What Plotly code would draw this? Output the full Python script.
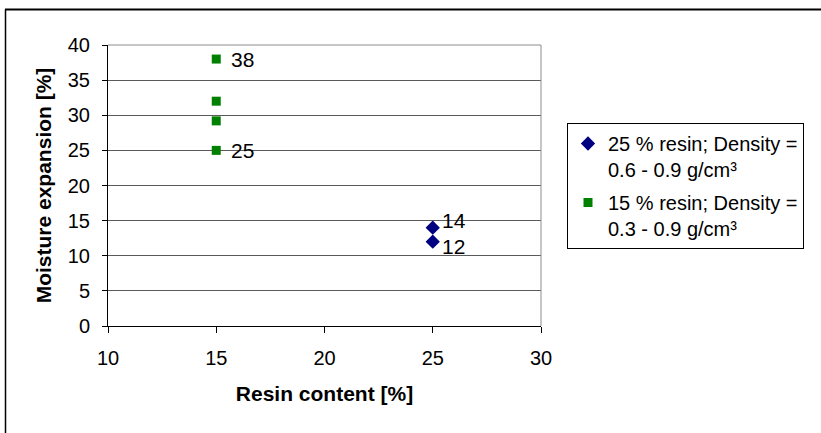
import plotly.graph_objects as go

# Moisture expansion measured at two resin contents
resin_25_x = [25, 25]
resin_25_y = [14, 12]
resin_15_x = [15, 15, 15, 15]
resin_15_y = [38, 32, 29.2, 25]

# values annotated next to the points
labels_25 = {14: 7, 12: -5}      # value -> vertical nudge (px)
labels_15 = {38: 0, 25: 0}

x_ticks = [10, 15, 20, 25, 30]
y_ticks = [0, 5, 10, 15, 20, 25, 30, 35, 40]

W, H = 821, 433
ML, MR, MT, MB = 108, 280, 45, 107
PW, PH = W - ML - MR, H - MT - MB

def px_to_paper_x(px):
    return (px - ML) / PW

def px_to_paper_y(py):
    return (H - MB - py) / PH

FONT = "Arial, Liberation Sans, sans-serif"

fig = go.Figure()
fig.add_trace(go.Scatter(
    x=resin_25_x, y=resin_25_y, mode="markers",
    name="25 % resin; Density =<br>0.6 - 0.9 g/cm³", legendgroup="a",
    marker=dict(symbol="diamond", size=11, color="#000080"),
))
fig.add_trace(go.Scatter(
    x=resin_15_x, y=resin_15_y, mode="markers",
    name="15 % resin; Density =<br>0.3 - 0.9 g/cm³", legendgroup="b",
    marker=dict(symbol="square", size=9, color="#008000"),
))

annotations = []
for xs, ys, labs, xs_shift in ((resin_25_x, resin_25_y, labels_25, 7),
                                (resin_15_x, resin_15_y, labels_15, 13)):
    for xv, yv in zip(xs, ys):
        if yv in labs:
            annotations.append(dict(
                x=xv, y=yv, text=f"{yv:g}", showarrow=False,
                xanchor="left", yanchor="middle", xshift=xs_shift,
                yshift=labs[yv], font=dict(family=FONT, size=21, color="black"),
            ))

shapes = [
    # plot-area frame (top and right)
    dict(type="line", xref="paper", yref="paper", x0=0, x1=1, y0=1, y1=1,
         line=dict(color="#8c8c8c", width=1)),
    dict(type="line", xref="paper", yref="paper", x0=1, x1=1, y0=0, y1=1,
         line=dict(color="#8c8c8c", width=1)),
    # chart border
    dict(type="line", xref="paper", yref="paper",
         x0=px_to_paper_x(5), x1=px_to_paper_x(821),
         y0=px_to_paper_y(9.5), y1=px_to_paper_y(9.5),
         line=dict(color="black", width=2)),
    dict(type="line", xref="paper", yref="paper",
         x0=px_to_paper_x(5.5), x1=px_to_paper_x(5.5),
         y0=px_to_paper_y(9.5), y1=px_to_paper_y(440),
         line=dict(color="black", width=1.5)),
]

fig.update_layout(
    width=W, height=H,
    margin=dict(l=ML, r=MR, t=MT, b=MB, pad=0),
    paper_bgcolor="white", plot_bgcolor="white",
    font=dict(family=FONT, size=20, color="black"),
    showlegend=True,
    legend=dict(
        x=px_to_paper_x(567), y=px_to_paper_y(123),
        xanchor="left", yanchor="top", valign="top",
        bordercolor="black", borderwidth=1, bgcolor="white",
        font=dict(family=FONT, size=20, color="black"),
        traceorder="grouped", tracegroupgap=4,
        itemwidth=30,
    ),
    annotations=annotations,
    shapes=shapes,
    xaxis=dict(
        range=[10, 30], tickvals=x_ticks, ticktext=[str(v) for v in x_ticks],
        showgrid=False, zeroline=False,
        showline=True, linecolor="black", linewidth=1,
        ticks="outside", ticklen=6, tickcolor="black",
        ticklabelstandoff=8,
        tickfont=dict(family=FONT, size=20),
        title=dict(text="<b>Resin content [%]</b>", standoff=18,
                   font=dict(family=FONT, size=21)),
    ),
    yaxis=dict(
        range=[0, 40], tickvals=y_ticks, ticktext=[str(v) for v in y_ticks],
        showgrid=True, gridcolor="#5a5a5a", gridwidth=1, zeroline=False,
        showline=True, linecolor="black", linewidth=1,
        ticks="outside", ticklen=5, tickcolor="black",
        ticklabelstandoff=8,
        tickfont=dict(family=FONT, size=20),
        title=dict(text="<b>Moisture expansion [%]</b>", standoff=10,
                   font=dict(family=FONT, size=21)),
    ),
)

fig.write_html("out.html")
